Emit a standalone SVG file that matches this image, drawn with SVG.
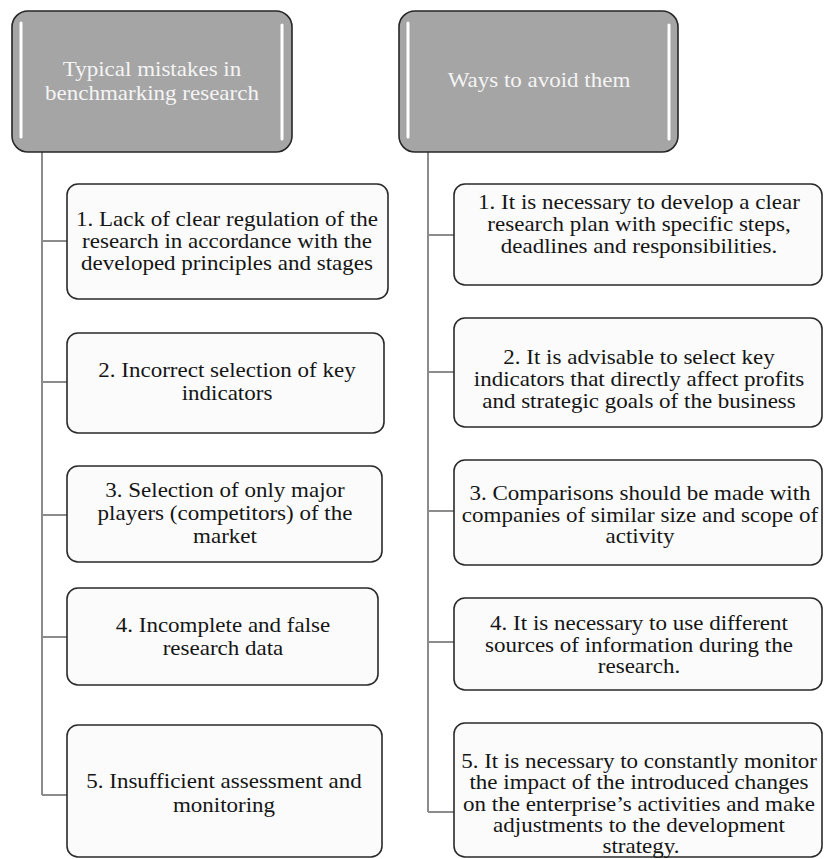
<svg xmlns="http://www.w3.org/2000/svg" width="824" height="859" viewBox="0 0 824 859">
<style>
.hdr{fill:#a5a5a5;stroke:#262626;stroke-width:1.6}
.hl{stroke:#ffffff;stroke-width:3;stroke-linecap:round;fill:none}
.box{fill:#fbfbfb;stroke:#2a2a2a;stroke-width:1.6}
.conn{stroke:#8c8c8c;stroke-width:2;fill:none}
text{font-family:"Liberation Serif","Times New Roman",serif;font-size:20px;text-anchor:middle}
.ht{fill:#f4f4f4}
.bt{fill:#151515}
</style>
<rect width="824" height="859" fill="#ffffff"/>
<g id="connectors">
<path class="conn" d="M42 152 V795 M42 241 H67 M42 382 H67 M42 515 H67 M42 637 H67 M42 795 H67"/>
<path class="conn" d="M428 152 V812 M428 235 H454 M428 372 H454 M428 511 H454 M428 642 H454 M428 812 H454"/>
</g>
<g id="header-mistakes">
<rect class="hdr" x="12" y="11" width="280" height="141" rx="16"/>
<path class="hl" d="M21 23 V137 M282 25 V139"/>
<text class="ht" transform="translate(152 0) scale(1.15 1)" x="0" y="76">Typical mistakes in</text>
<text class="ht" transform="translate(152 0) scale(1.15 1)" x="0" y="100">benchmarking research</text>
</g>
<g id="header-ways">
<rect class="hdr" x="399" y="11" width="279" height="141" rx="16"/>
<path class="hl" d="M408 23 V137 M669 25 V139"/>
<text class="ht" transform="translate(539 0) scale(1.15 1)" x="0" y="87">Ways to avoid them</text>
</g>
<g id="mistake-1">
<rect class="box" x="67" y="184" width="321" height="115" rx="11"/>
<text class="bt" transform="translate(227 0) scale(1.15 1)" x="0" y="226">1. Lack of clear regulation of the</text>
<text class="bt" transform="translate(227 0) scale(1.15 1)" x="0" y="248">research in accordance with the</text>
<text class="bt" transform="translate(227 0) scale(1.15 1)" x="0" y="270">developed principles and stages</text>
</g>
<g id="mistake-2">
<rect class="box" x="67" y="333" width="317" height="100" rx="11"/>
<text class="bt" transform="translate(227 0) scale(1.15 1)" x="0" y="377">2. Incorrect selection of key</text>
<text class="bt" transform="translate(227 0) scale(1.15 1)" x="0" y="400">indicators</text>
</g>
<g id="mistake-3">
<rect class="box" x="67" y="466" width="315" height="96" rx="11"/>
<text class="bt" transform="translate(225 0) scale(1.15 1)" x="0" y="497">3. Selection of only major</text>
<text class="bt" transform="translate(225 0) scale(1.15 1)" x="0" y="520">players (competitors) of the</text>
<text class="bt" transform="translate(225 0) scale(1.15 1)" x="0" y="543">market</text>
</g>
<g id="mistake-4">
<rect class="box" x="67" y="588" width="311" height="97" rx="11"/>
<text class="bt" transform="translate(223 0) scale(1.15 1)" x="0" y="632">4. Incomplete and false</text>
<text class="bt" transform="translate(223 0) scale(1.15 1)" x="0" y="655">research data</text>
</g>
<g id="mistake-5">
<rect class="box" x="67" y="725" width="315" height="132" rx="11"/>
<text class="bt" transform="translate(224 0) scale(1.15 1)" x="0" y="788">5. Insufficient assessment and</text>
<text class="bt" transform="translate(224 0) scale(1.15 1)" x="0" y="812">monitoring</text>
</g>
<g id="way-1">
<rect class="box" x="454" y="184" width="368" height="101" rx="11"/>
<text class="bt" transform="translate(639 0) scale(1.15 1)" x="0" y="209">1. It is necessary to develop a clear</text>
<text class="bt" transform="translate(639 0) scale(1.15 1)" x="0" y="231">research plan with specific steps,</text>
<text class="bt" transform="translate(639 0) scale(1.15 1)" x="0" y="253">deadlines and responsibilities.</text>
</g>
<g id="way-2">
<rect class="box" x="454" y="318" width="368" height="109" rx="11"/>
<text class="bt" transform="translate(639 0) scale(1.15 1)" x="0" y="364">2. It is advisable to select key</text>
<text class="bt" transform="translate(639 0) scale(1.15 1)" x="0" y="386">indicators that directly affect profits</text>
<text class="bt" transform="translate(639 0) scale(1.15 1)" x="0" y="408">and strategic goals of the business</text>
</g>
<g id="way-3">
<rect class="box" x="454" y="460" width="368" height="105" rx="11"/>
<text class="bt" transform="translate(640 0) scale(1.15 1)" x="0" y="500">3. Comparisons should be made with</text>
<text class="bt" transform="translate(640 0) scale(1.15 1)" x="0" y="522">companies of similar  size and scope of</text>
<text class="bt" transform="translate(640 0) scale(1.15 1)" x="0" y="543">activity</text>
</g>
<g id="way-4">
<rect class="box" x="454" y="598" width="368" height="92" rx="11"/>
<text class="bt" transform="translate(639 0) scale(1.15 1)" x="0" y="630">4. It is necessary to use different</text>
<text class="bt" transform="translate(639 0) scale(1.15 1)" x="0" y="652">sources of information during the</text>
<text class="bt" transform="translate(639 0) scale(1.15 1)" x="0" y="673">research.</text>
</g>
<g id="way-5">
<rect class="box" x="454" y="723" width="368" height="134" rx="11"/>
<text class="bt" transform="translate(639 0) scale(1.15 1)" x="0" y="768">5. It is necessary to constantly monitor</text>
<text class="bt" transform="translate(639 0) scale(1.15 1)" x="0" y="789">the impact of the introduced changes</text>
<text class="bt" transform="translate(639 0) scale(1.15 1)" x="0" y="811">on the enterprise’s activities and make</text>
<text class="bt" transform="translate(639 0) scale(1.15 1)" x="0" y="832">adjustments to the development</text>
<text class="bt" transform="translate(641 0) scale(1.15 1)" x="0" y="853">strategy.</text>
</g>
</svg>
